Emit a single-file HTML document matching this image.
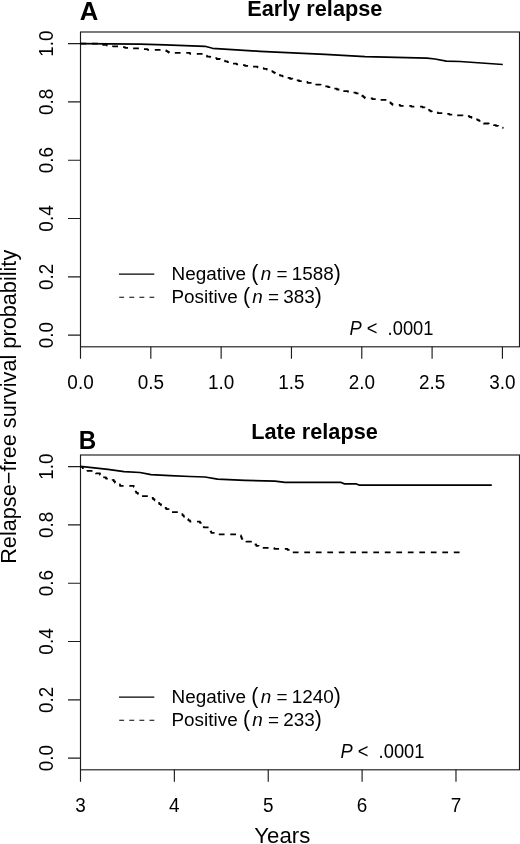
<!DOCTYPE html>
<html>
<head>
<meta charset="utf-8">
<title>Relapse-free survival</title>
<style>
  html, body { margin: 0; padding: 0; background: #ffffff; }
  body { width: 520px; height: 844px; overflow: hidden; position: relative; }
  svg { display: block; position: absolute; left: 0; top: 0; will-change: transform; }
  text { font-family: "Liberation Sans", sans-serif; fill: #000; }
  .ax { stroke: #1c1c1c; stroke-width: 1.15; fill: none; }
  .tl { font-size: 18.9px; }
  .lab { font-size: 21.7px; }
  .ttl { font-size: 21.7px; font-weight: bold; }
  .pan { font-size: 25.7px; font-weight: bold; }
  .cs { stroke: #000; stroke-width: 1.7; fill: none; stroke-linejoin: round; }
  .cd { stroke: #000; stroke-width: 1.8; fill: none; stroke-dasharray: 5.75 5.75; stroke-linejoin: round; }
  .ls { stroke: #000; stroke-width: 1.15; fill: none; }
  .ld { stroke: #000; stroke-width: 1.15; fill: none; stroke-dasharray: 4.9 5.2; }
</style>
</head>
<body>
<svg width="520" height="844" viewBox="0 0 520 844">
  <rect x="0" y="0" width="520" height="844" fill="#ffffff"/>

  <!-- shared y axis title -->
  <text class="lab" text-anchor="middle" transform="translate(16.2,406.8) rotate(-90) scale(1,1.02)" xml:space="preserve">Relapse−free survival probability</text>

  <!-- ================= PANEL A : Early relapse ================= -->
  <g id="panelA">
    <text class="pan" transform="translate(79.8,20.2) scale(1,1.03)" xml:space="preserve">A</text>
    <text class="ttl" transform="translate(247.3,15.5) scale(1,1.05)" xml:space="preserve">Early relapse</text>
    <rect class="ax" x="80.5" y="32" width="439" height="314.8"/>
    <path class="ax" d="M68 43.6H80.5 M68 101.9H80.5 M68 160.2H80.5 M68 218.5H80.5 M68 276.8H80.5 M68 335.1H80.5"/>
    <text class="tl" text-anchor="middle" transform="translate(53.3,43.6) rotate(-90) scale(1,1.07)" xml:space="preserve">1.0</text>
    <text class="tl" text-anchor="middle" transform="translate(53.3,101.9) rotate(-90) scale(1,1.07)" xml:space="preserve">0.8</text>
    <text class="tl" text-anchor="middle" transform="translate(53.3,160.2) rotate(-90) scale(1,1.07)" xml:space="preserve">0.6</text>
    <text class="tl" text-anchor="middle" transform="translate(53.3,218.5) rotate(-90) scale(1,1.07)" xml:space="preserve">0.4</text>
    <text class="tl" text-anchor="middle" transform="translate(53.3,276.8) rotate(-90) scale(1,1.07)" xml:space="preserve">0.2</text>
    <text class="tl" text-anchor="middle" transform="translate(53.3,335.1) rotate(-90) scale(1,1.07)" xml:space="preserve">0.0</text>
    <path class="ax" d="M80.5 346.8V358.7 M150.82 346.8V358.7 M221.14 346.8V358.7 M291.46 346.8V358.7 M361.78 346.8V358.7 M432.1 346.8V358.7 M502.42 346.8V358.7"/>
    <text class="tl" text-anchor="middle" transform="translate(80.5,388.7) scale(1,1.07)" xml:space="preserve">0.0</text>
    <text class="tl" text-anchor="middle" transform="translate(150.82,388.7) scale(1,1.07)" xml:space="preserve">0.5</text>
    <text class="tl" text-anchor="middle" transform="translate(221.14,388.7) scale(1,1.07)" xml:space="preserve">1.0</text>
    <text class="tl" text-anchor="middle" transform="translate(291.46,388.7) scale(1,1.07)" xml:space="preserve">1.5</text>
    <text class="tl" text-anchor="middle" transform="translate(361.78,388.7) scale(1,1.07)" xml:space="preserve">2.0</text>
    <text class="tl" text-anchor="middle" transform="translate(432.1,388.7) scale(1,1.07)" xml:space="preserve">2.5</text>
    <text class="tl" text-anchor="middle" transform="translate(502.42,388.7) scale(1,1.07)" xml:space="preserve">3.0</text>
    <path class="cd" d="M80.5 43.6H98V44.1H101V44.8H107V45.55H113V46.3H119V47.05H125V47.8H132.5V48.47H140V49.13H147.5V49.8H165V50.3H166.33V51.13H167.67V51.97H169V52.8H190V53.8H205V54.05H205.67V54.88H206.33V55.72H207V56.55H210.25V57.36H213.5V58.17H216.75V58.99H220V59.8H222.5V60.55H225V61.3H227.5V62.05H230V62.8H232.5V63.55H236.67V64.3H240.83V65.05H245V65.8H251.25V66.55H257.5V67.3H260.62V68.05H263.75V68.8H266.88V69.55H270V70.3H271.25V71.05H272.5V71.8H273.75V72.55H275V73.3H276.25V74.05H277.5V74.8H280V75.59H282.5V76.37H285V77.16H287.5V77.94H290V78.73H292.5V79.51H295V80.3H299.17V81.13H303.33V81.97H307.5V82.8H311.88V83.67H316.25V84.55H320.62V85.42H325V86.3H328V87.1H331V87.9H334V88.7H337V89.5H340V90.3H344V91.05H348V91.8H352V92.55H356V93.3H360V94.05H361V94.9H362V95.75H363V96.6H364V97.45H365V98.3H372.5V99.13H380V99.97H387.5V100.8H388.5V101.6H389.5V102.4H390.5V103.2H391.5V104H392.5V104.8H400V105.8H411.25V106.55H422.5V107.3H424.75V108.15H427V109H428.25V109.83H429.5V110.65H430.75V111.47H432V112.3H437.77V113.07H443.53V113.83H449.3V114.6H456.03V115.4H462.77V116.2H469.5V117H471.52V117.77H473.55V118.55H475.58V119.33H477.6V120.1H479.12V120.95H480.65V121.8H482.18V122.65H483.7V123.5H488.75V124.3H493.8V125.1H496.05V125.95H498.3V126.8H500.55V127.65H502.8V128.5"/>
    <path class="cs" d="M80.5 43.6L140 44.1L165 44.8L205 46.3L212.5 48.3L260 51.3L325 54.3L365 56.55L427 58.1L435 59L446.3 61.1L460 61.5L502.8 64.5"/>
    <path class="ls" d="M119 274.15H154.3"/>
    <path class="ld" d="M119.2 297.2H154.3"/>
    <text class="tl" transform="translate(171.5,280) scale(1,1.0)" xml:space="preserve">Negative <tspan font-size="21.2px">(</tspan><tspan font-style="italic" dx="2.4">n</tspan> = <tspan dx="-1.1">1588</tspan><tspan font-size="21.2px">)</tspan></text>
    <text class="tl" transform="translate(171.5,302.8) scale(1,1.0)" xml:space="preserve">Positive <tspan font-size="21.2px">(</tspan><tspan font-style="italic" dx="2.4">n</tspan> = <tspan dx="-1.1">383</tspan><tspan font-size="21.2px">)</tspan></text>
    <text class="tl" transform="translate(349.4,335) scale(0.97,1.04)" xml:space="preserve"><tspan font-style="italic">P</tspan> &lt;  .0001</text>
  </g>

  <!-- ================= PANEL B : Late relapse ================= -->
  <g id="panelB">
    <text class="pan" style="font-size:24.2px" transform="translate(78.7,448.5) scale(1,1.03)" xml:space="preserve">B</text>
    <text class="ttl" transform="translate(251.2,438.65) scale(1,1.05)" xml:space="preserve">Late relapse</text>
    <rect class="ax" x="80.5" y="455" width="439" height="314.8"/>
    <path class="ax" d="M68 466.6H80.5 M68 524.9H80.5 M68 583.2H80.5 M68 641.5H80.5 M68 699.8H80.5 M68 758.1H80.5"/>
    <text class="tl" text-anchor="middle" transform="translate(53.3,466.6) rotate(-90) scale(1,1.07)" xml:space="preserve">1.0</text>
    <text class="tl" text-anchor="middle" transform="translate(53.3,524.9) rotate(-90) scale(1,1.07)" xml:space="preserve">0.8</text>
    <text class="tl" text-anchor="middle" transform="translate(53.3,583.2) rotate(-90) scale(1,1.07)" xml:space="preserve">0.6</text>
    <text class="tl" text-anchor="middle" transform="translate(53.3,641.5) rotate(-90) scale(1,1.07)" xml:space="preserve">0.4</text>
    <text class="tl" text-anchor="middle" transform="translate(53.3,699.8) rotate(-90) scale(1,1.07)" xml:space="preserve">0.2</text>
    <text class="tl" text-anchor="middle" transform="translate(53.3,758.1) rotate(-90) scale(1,1.07)" xml:space="preserve">0.0</text>
    <path class="ax" d="M80.5 769.8V781.7 M174.37 769.8V781.7 M268.24 769.8V781.7 M362.11 769.8V781.7 M455.98 769.8V781.7"/>
    <text class="tl" text-anchor="middle" transform="translate(80.5,811.7) scale(1,1.07)" xml:space="preserve">3</text>
    <text class="tl" text-anchor="middle" transform="translate(174.37,811.7) scale(1,1.07)" xml:space="preserve">4</text>
    <text class="tl" text-anchor="middle" transform="translate(268.24,811.7) scale(1,1.07)" xml:space="preserve">5</text>
    <text class="tl" text-anchor="middle" transform="translate(362.11,811.7) scale(1,1.07)" xml:space="preserve">6</text>
    <text class="tl" text-anchor="middle" transform="translate(455.98,811.7) scale(1,1.07)" xml:space="preserve">7</text>
    <path class="cd" stroke-dashoffset="1.2" d="M80.5 466.8H82.83V468.13H85.17V469.47H87.5V470.8H91.67V472.13H95.83V473.47H100V474.8H102V476.05H104V477.3H106V478.55H112.5V479.8H113.75V481.3H115V482.8H117.5V484.3H120V485.8H133.75V486.8H134.25V488H134.75V489.2H135.25V490.4H135.75V491.6H136.25V492.8H137.92V493.88H139.58V494.97H141.25V496.05H150V496.55H151.5V497.8H153V499.05H154.5V500.3H156V501.55H157.5V502.8H159.25V504.05H161V505.3H162.75V506.55H164.5V507.8H166.25V509.05H168.75V510.55H171.25V512.05H180V512.8H181.25V514.05H182.5V515.3H183.75V516.55H185V517.8H186.67V519.05H188.33V520.3H190V521.55H200V522.8H201H201.69V523.92H202.38V525.05H203.06V526.17H203.75V527.3H208.75H209.38V528.67H210V530.05H210.62V531.42H211.25V532.8H217.5V534.3H240H240.5V535.5H241V536.7H241.5V537.9H242V539.1H242.5V540.3H246.25V541.55H253.75H254.58V542.97H255.42V544.38H256.25V545.8H258.75V546.8H261.25V547.8H274.38V548.8H287.5V549.8H290V551.05H292.5V552.3H460"/>
    <path class="cs" d="M80.5 466.3L108 469.3L124 471.7L140 472.5L151 474.7L170 475.6L190 476.5L205 477L217.5 479.05L245 480.3L275 481.05L285 482.3L340.6 482.3L344.5 483.9L356.4 483.9L359 485.1L491.8 485.1"/>
    <path class="ls" d="M119 697.15H154.3"/>
    <path class="ld" d="M119.2 720.2H154.3"/>
    <text class="tl" transform="translate(171.5,703) scale(1,1.0)" xml:space="preserve">Negative <tspan font-size="21.2px">(</tspan><tspan font-style="italic" dx="2.4">n</tspan> = <tspan dx="-1.1">1240</tspan><tspan font-size="21.2px">)</tspan></text>
    <text class="tl" transform="translate(171.5,725.8) scale(1,1.0)" xml:space="preserve">Positive <tspan font-size="21.2px">(</tspan><tspan font-style="italic" dx="2.4">n</tspan> = <tspan dx="-1.1">233</tspan><tspan font-size="21.2px">)</tspan></text>
    <text class="tl" transform="translate(340.4,758) scale(0.97,1.04)" xml:space="preserve"><tspan font-style="italic">P</tspan> &lt;  .0001</text>
    <text class="lab" text-anchor="middle" transform="translate(282.3,843) scale(1.025,0.98)">Years</text>
  </g>
</svg>
</body>
</html>
